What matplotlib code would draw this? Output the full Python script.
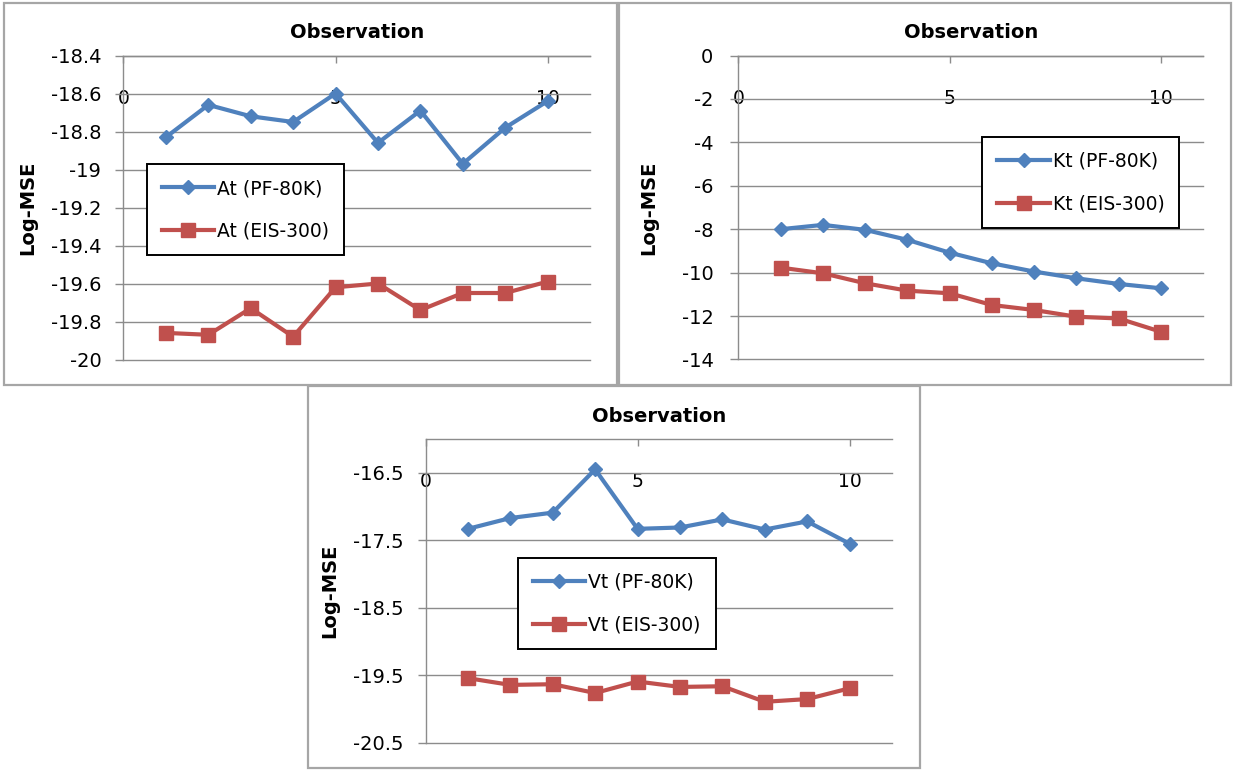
import matplotlib
matplotlib.use("Agg")
import matplotlib.pyplot as plt
from matplotlib.patches import Rectangle

# observation index shared by all three panels
obs = [1, 2, 3, 4, 5, 6, 7, 8, 9, 10]

# At panel
at_pf = [-18.83, -18.66, -18.72, -18.75, -18.60, -18.86, -18.69, -18.97, -18.78, -18.64]
at_eis = [-19.86, -19.87, -19.73, -19.88, -19.62, -19.60, -19.74, -19.65, -19.65, -19.59]
at_yticks = [-20, -19.8, -19.6, -19.4, -19.2, -19, -18.8, -18.6, -18.4]
at_ylabels = ["-20", "-19.8", "-19.6", "-19.4", "-19.2", "-19", "-18.8", "-18.6", "-18.4"]

# Kt panel
kt_pf = [-8.0, -7.8, -8.03, -8.49, -9.08, -9.57, -9.95, -10.26, -10.52, -10.72]
kt_eis = [-9.77, -10.03, -10.49, -10.83, -10.95, -11.49, -11.72, -12.03, -12.11, -12.72]
kt_yticks = [-14, -12, -10, -8, -6, -4, -2, 0]
kt_ylabels = ["-14", "-12", "-10", "-8", "-6", "-4", "-2", "0"]

# Vt panel
vt_pf = [-17.33, -17.17, -17.09, -16.45, -17.33, -17.31, -17.19, -17.34, -17.22, -17.55]
vt_eis = [-19.54, -19.64, -19.63, -19.76, -19.59, -19.67, -19.66, -19.89, -19.85, -19.69]
vt_yticks = [-20.5, -19.5, -18.5, -17.5, -16.5]
vt_ylabels = ["-20.5", "-19.5", "-18.5", "-17.5", "-16.5"]

xticks = [0, 5, 10]
xlabels = ["0", "5", "10"]

BLUE = "#4F81BD"
RED = "#C0504D"
GRID = "#8c8c8c"

W, H = 1233, 771
plt.rcParams["font.family"] = ["DejaVu Sans"]

fig = plt.figure(figsize=(W / 100, H / 100), dpi=100)
fig.patch.set_facecolor("white")


def px_rect(l, t, r, b):
    return [l / W, 1 - b / H, (r - l) / W, (b - t) / H]


# panel frames (Excel chart areas)
for l, t, r, b in [(4, 3, 617, 385), (619, 3, 1231, 385), (308, 386, 920, 768)]:
    fig.patches.append(Rectangle((l / W, 1 - b / H), (r - l) / W, (b - t) / H,
                                 transform=fig.transFigure, fill=False,
                                 edgecolor="#a6a6a6", linewidth=1.6))


def panel(box, pf, eis, name, yticks, ylabels, ylim, leg_xy, ylab_x, ypad):
    ax = fig.add_axes(px_rect(*box))
    ax.plot(obs, pf, color=BLUE, lw=3, marker="D", ms=7, mec=BLUE, mfc=BLUE,
            label=name + " (PF-80K)", zorder=3)
    ax.plot(obs, eis, color=RED, lw=3, marker="s", ms=10, mec=RED, mfc=RED,
            label=name + " (EIS-300)", zorder=3)
    ax.set_xlim(0, 11)
    ax.set_ylim(*ylim)
    ax.set_yticks(yticks)
    ax.set_yticklabels(ylabels)
    ax.set_xticks(xticks)
    ax.set_xticklabels(xlabels)
    ax.xaxis.set_ticks_position("top")
    ax.tick_params(axis="x", direction="in", length=5, color=GRID, width=1,
                   labelsize=13.5, pad=-37.5)
    ax.tick_params(axis="y", direction="out", length=6, color=GRID, width=1,
                   labelsize=14, pad=ypad)
    ax.grid(axis="y", color=GRID, lw=1)
    for gl in ax.get_ygridlines():
        gl.set_clip_on(False)
    ax.set_axisbelow(True)
    for s in ["right", "bottom"]:
        ax.spines[s].set_visible(False)
    for s in ["left", "top"]:
        ax.spines[s].set_color(GRID)
        ax.spines[s].set_linewidth(1)
    ax.text(0.5, 1 + 17 / 304, "Observation", transform=ax.transAxes,
            ha="center", va="baseline", fontsize=14, fontweight="bold")
    ax.set_ylabel("Log-MSE", fontsize=14, fontweight="bold", va="center")
    ax.yaxis.set_label_coords(ylab_x, 0.5)
    leg = ax.legend(loc="upper left", bbox_to_anchor=leg_xy, borderaxespad=0,
                    fontsize=13.5, handlelength=2.8, handletextpad=0.15,
                    labelspacing=1.25, borderpad=0.8, fancybox=False,
                    framealpha=1, edgecolor="black")
    leg.get_frame().set_linewidth(1.4)
    return ax


panel((123.5, 55.5, 590, 359.5), at_pf, at_eis, "At", at_yticks, at_ylabels,
      (-20, -18.4), (0.05, 0.643), -0.205, 10)
panel((738.5, 55.5, 1203, 359.5), kt_pf, kt_eis, "Kt", kt_yticks, kt_ylabels,
      (-14, 0), (0.525, 0.733), -0.194, 12)
panel((425.5, 439, 892, 743), vt_pf, vt_eis, "Vt", vt_yticks, vt_ylabels,
      (-20.5, -16), (0.198, 0.609), -0.205, 10)

fig.savefig("out.png", dpi=100)
